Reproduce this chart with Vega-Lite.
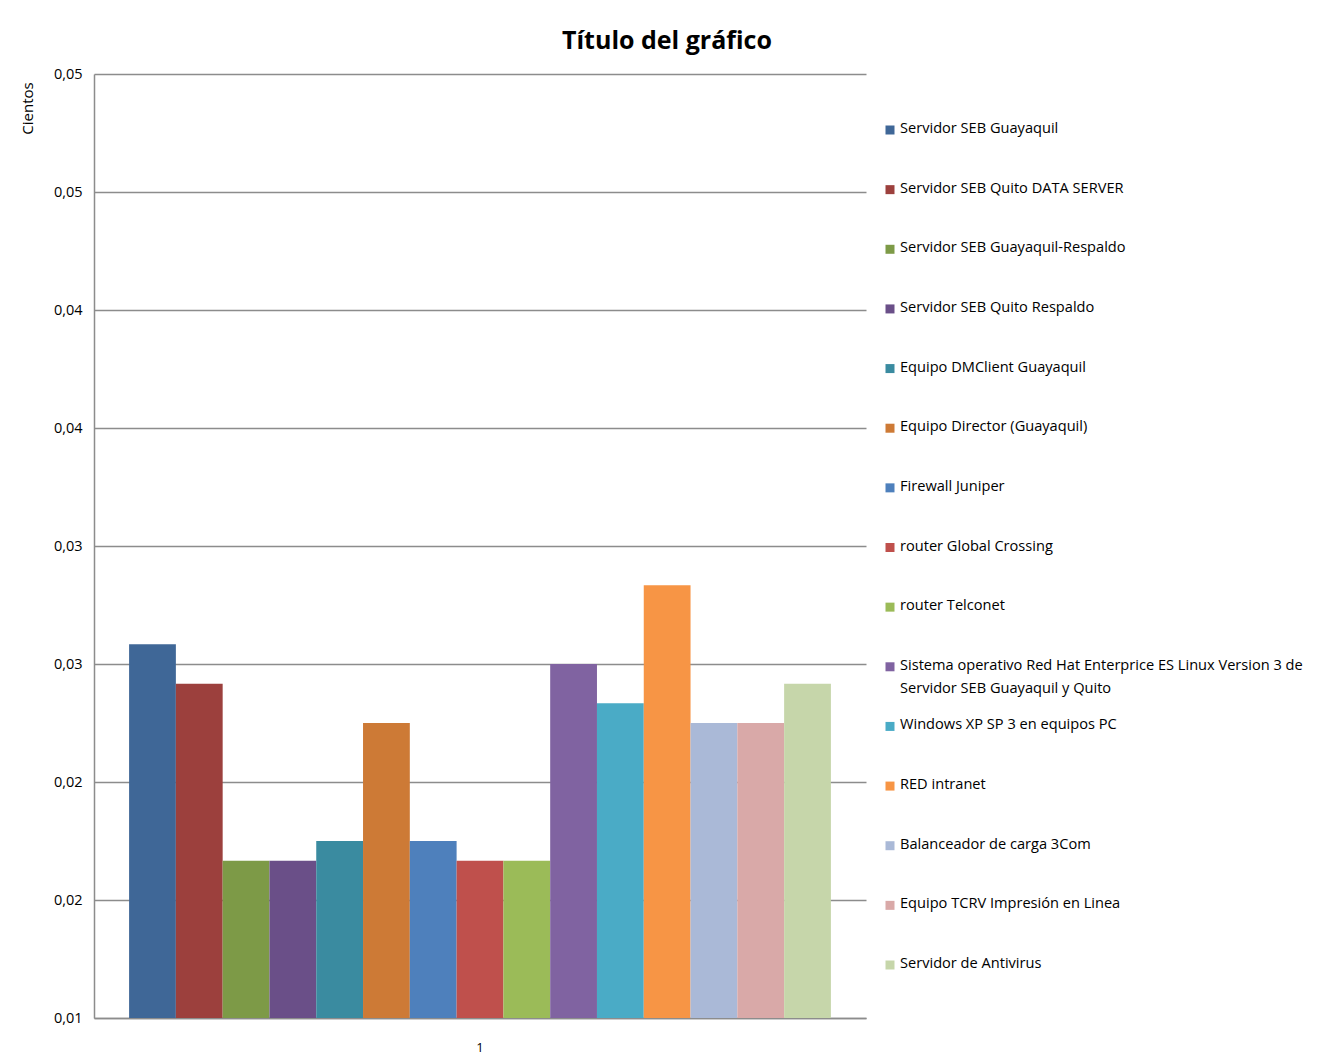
{
  "$schema": "https://vega.github.io/schema/vega-lite/v6.json",
  "autosize": {"type": "pad"},
  "padding": {"left": 20, "top": 29, "right": 5, "bottom": 5},
  "background": "white",
  "config": {
    "view": {"stroke": null},
    "font": "Open Sans",
    "concat": {"spacing": 19}
  },
  "title": {
    "text": "Título del gráfico",
    "font": "Open Sans",
    "fontSize": 25,
    "fontWeight": "bold",
    "color": "#000000",
    "anchor": "start",
    "dx": 542,
    "offset": 12
  },
  "data": {
    "values": [
      {"cat": "1", "serie": "Servidor SEB Guayaquil", "valor": 0.025833},
      {"cat": "1", "serie": "Servidor SEB Quito DATA SERVER", "valor": 0.024167},
      {"cat": "1", "serie": "Servidor SEB Guayaquil-Respaldo", "valor": 0.016667},
      {"cat": "1", "serie": "Servidor SEB Quito Respaldo", "valor": 0.016667},
      {"cat": "1", "serie": "Equipo DMClient  Guayaquil", "valor": 0.0175},
      {"cat": "1", "serie": "Equipo Director  (Guayaquil)", "valor": 0.0225},
      {"cat": "1", "serie": "Firewall Juniper", "valor": 0.0175},
      {"cat": "1", "serie": "router Global Crossing", "valor": 0.016667},
      {"cat": "1", "serie": "router Telconet", "valor": 0.016667},
      {"cat": "1", "serie": "Sistema operativo Red Hat Enterprice ES Linux Version 3 de\nServidor SEB Guayaquil y Quito", "valor": 0.025},
      {"cat": "1", "serie": "Windows XP SP 3 en equipos PC", "valor": 0.023333},
      {"cat": "1", "serie": "RED intranet", "valor": 0.028333},
      {"cat": "1", "serie": "Balanceador de carga 3Com", "valor": 0.0225},
      {"cat": "1", "serie": "Equipo TCRV  Impresión  en Linea", "valor": 0.0225},
      {"cat": "1", "serie": "Servidor de Antivirus", "valor": 0.024167}
    ]
  },
  "hconcat": [
    {
      "width": 772,
      "height": 944,
      "mark": {"type": "bar", "clip": true},
      "encoding": {
        "x": {
          "field": "cat",
          "type": "nominal",
          "scale": {"paddingInner": 0, "paddingOuter": 0.05},
          "axis": {
            "title": null,
            "labelAngle": 0,
            "ticks": false,
            "domainColor": "#8c8c8c",
            "domainWidth": 1.5,
            "labelFontSize": 13,
            "labelColor": "#000000",
            "labelPadding": 23
          }
        },
        "xOffset": {
          "field": "serie",
          "type": "nominal",
          "sort": null,
          "scale": {"paddingInner": 0, "paddingOuter": 0}
        },
        "y": {
          "field": "valor",
          "type": "quantitative",
          "scale": {"domain": [0.01, 0.05], "nice": false, "zero": false},
          "axis": {
            "values": [0.01, 0.015, 0.02, 0.025, 0.03, 0.035, 0.04, 0.045, 0.05],
            "labelExpr": "replace(format(datum.value + 1e-9, '.2f'), '.', ',')",
            "ticks": false,
            "labelPadding": 12,
            "labelFontSize": 14.5,
            "labelColor": "#000000",
            "grid": true,
            "gridColor": "#8c8c8c",
            "gridWidth": 1.5,
            "domainColor": "#8c8c8c",
            "domainWidth": 1.5,
            "title": "Cientos",
            "titleFontSize": 15,
            "titleFontWeight": "normal",
            "titleColor": "#000000",
            "titleX": -67,
            "titleY": 34,
            "titleAlign": "center",
            "titleBaseline": "middle"
          }
        },
        "y2": {"datum": 0.01},
        "color": {
          "field": "serie",
          "type": "nominal",
          "sort": null,
          "scale": {
            "range": [
              "#3f6797", "#9c403d", "#7d9a47", "#6a4f88", "#3a8ba0", "#cd7a36",
              "#4e80bc", "#bf504c", "#9bbb58", "#8063a1", "#4aabc6", "#f79545",
              "#aab9d7", "#d9a9a8", "#c6d6aa"
            ]
          },
          "legend": null
        }
      }
    },
    {
      "width": 10,
      "height": 944,
      "layer": [
        {
          "mark": {"type": "square", "size": 81, "filled": true, "opacity": 1},
          "encoding": {
            "y": {
              "field": "serie",
              "type": "nominal",
              "sort": null,
              "scale": {"type": "point", "range": [56, 891], "padding": 0},
              "axis": null
            },
            "color": {"field": "serie", "type": "nominal", "sort": null, "legend": null}
          }
        },
        {
          "mark": {
            "type": "text",
            "align": "left",
            "baseline": "top",
            "dx": 10,
            "dy": -9,
            "fontSize": 14.6,
            "lineHeight": 23,
            "lineBreak": "\n",
            "color": "#000000"
          },
          "encoding": {
            "y": {
              "field": "serie",
              "type": "nominal",
              "sort": null,
              "scale": {"type": "point", "range": [56, 891], "padding": 0},
              "axis": null
            },
            "text": {"field": "serie", "type": "nominal"}
          }
        }
      ]
    }
  ]
}
